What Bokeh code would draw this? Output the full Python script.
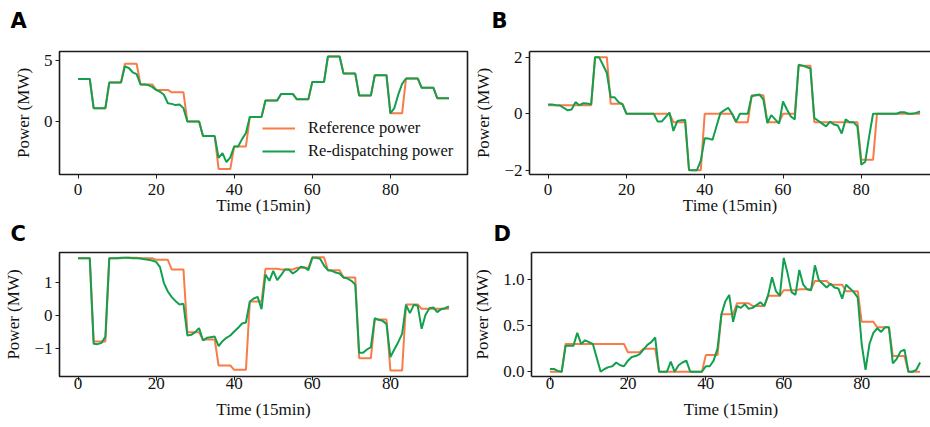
from bokeh.plotting import figure
from bokeh.layouts import column, row
from bokeh.models import Range1d, FixedTicker, LinearAxis, Legend, LegendItem, Label
from bokeh.embed import file_html
from bokeh.resources import INLINE

time = list(range(96))

a_ref = [3.5, 3.5, 3.5, 3.5, 1.1, 1.1, 1.1, 1.1, 3.2, 3.2, 3.2, 3.2,
         4.75, 4.75, 4.75, 4.75, 3.05, 3.05, 3.05, 3.05, 2.6, 2.6, 2.6, 2.6,
         2.4, 2.4, 2.4, 2.4, 0.0, 0.0, 0.0, 0.0, -1.2, -1.2, -1.2, -1.2,
         -3.9, -3.9, -3.9, -3.9, -2.05, -2.05, -2.05, -2.05, 0.38, 0.38, 0.38, 0.38,
         1.72, 1.72, 1.72, 1.72, 2.27, 2.27, 2.27, 2.27, 1.84, 1.84, 1.84, 1.84,
         3.26, 3.26, 3.26, 3.26, 5.35, 5.35, 5.35, 5.35, 3.94, 3.94, 3.94, 3.94,
         2.13, 2.13, 2.13, 2.13, 3.81, 3.81, 3.81, 3.81, 0.67, 0.67, 0.67, 0.67,
         3.54, 3.54, 3.54, 3.54, 2.78, 2.78, 2.78, 2.78, 1.92, 1.92, 1.92, 1.92]
a_redis = [3.5, 3.5, 3.5, 3.5, 1.1, 1.1, 1.1, 1.1, 3.2, 3.2, 3.2, 3.2,
           4.54, 4.4, 4.05, 3.9, 3.05, 3.05, 3.0, 2.85, 2.6, 2.45, 2.2, 1.5,
           1.45, 1.35, 1.4, 1.1, 0.0, 0.0, 0.0, 0.0, -1.2, -1.2, -1.2, -1.2,
           -3.0, -2.6, -3.35, -2.95, -2.05, -2.05, -1.45, -0.95, 0.38, 0.38, 0.38, 0.38,
           1.72, 1.72, 1.72, 1.72, 2.27, 2.27, 2.27, 2.27, 1.84, 1.84, 1.84, 1.84,
           3.26, 3.26, 3.26, 3.26, 5.35, 5.35, 5.35, 5.35, 3.94, 3.94, 3.94, 3.94,
           2.13, 2.13, 2.13, 2.13, 3.81, 3.81, 3.81, 3.81, 0.67, 1.1, 2.2, 3.1,
           3.54, 3.54, 3.54, 3.54, 2.78, 2.78, 2.78, 2.78, 1.92, 1.92, 1.92, 1.92]

b_ref = [0.3, 0.3, 0.3, 0.3, 0.3, 0.3, 0.3, 0.3, 0.3, 0.3, 0.3, 0.3,
         2.0, 2.0, 2.0, 2.0, 0.35, 0.35, 0.35, 0.35, 0.0, 0.0, 0.0, 0.0,
         0.0, 0.0, 0.0, 0.0, 0.0, 0.0, 0.0, 0.0, -0.3, -0.3, -0.3, -0.3,
         -2.0, -2.0, -2.0, -2.0, 0.0, 0.0, 0.0, 0.0, 0.0, 0.0, 0.0, 0.0,
         -0.3, -0.3, -0.3, -0.3, 0.65, 0.65, 0.65, 0.65, -0.3, -0.3, -0.3, -0.3,
         0.0, 0.0, 0.0, 0.0, 1.7, 1.7, 1.7, 1.7, -0.3, -0.3, -0.3, -0.3,
         -0.3, -0.3, -0.3, -0.3, -0.3, -0.3, -0.3, -0.3, -1.63, -1.63, -1.63, -1.63,
         0.0, 0.0, 0.0, 0.0, 0.0, 0.0, 0.0, 0.0, 0.0, 0.0, 0.0, 0.0]
b_redis = [0.33, 0.33, 0.3, 0.29, 0.21, 0.12, 0.15, 0.41, 0.3, 0.37, 0.36, 0.33,
           2.0, 2.0, 1.73, 1.44, 0.58, 0.58, 0.41, 0.33, 0.0, 0.0, 0.0, 0.0,
           0.0, 0.0, 0.0, 0.0, -0.28, -0.28, -0.12, 0.04, -0.61, -0.26, -0.23, -0.22,
           -1.99, -2.0, -2.0, -1.66, -0.87, -0.88, -0.92, -0.45, 0.02, 0.12, 0.21, 0.0,
           -0.29, 0.0, 0.0, 0.0, 0.62, 0.65, 0.68, 0.5, -0.33, -0.05, -0.2, -0.35,
           0.43, 0.15, -0.1, -0.2, 1.73, 1.7, 1.65, 1.6, -0.15, -0.25, -0.35, -0.45,
           -0.28, -0.38, -0.42, -0.7, -0.2, -0.3, -0.3, -0.45, -1.8, -1.7, -0.8, 0.0,
           0.0, 0.0, 0.0, 0.0, 0.0, 0.0, 0.05, 0.05, 0.0, 0.0, 0.03, 0.08]

c_ref = [1.72, 1.72, 1.72, 1.72, -0.78, -0.78, -0.78, -0.78, 1.72, 1.72, 1.72, 1.72,
         1.73, 1.73, 1.73, 1.73, 1.72, 1.72, 1.72, 1.72, 1.67, 1.67, 1.67, 1.67,
         1.38, 1.38, 1.38, 1.38, -0.5, -0.5, -0.5, -0.5, -0.72, -0.72, -0.72, -0.72,
         -1.5, -1.5, -1.5, -1.5, -1.63, -1.63, -1.63, -1.63, 0.42, 0.42, 0.42, 0.42,
         1.4, 1.4, 1.4, 1.4, 1.38, 1.38, 1.38, 1.38, 1.43, 1.43, 1.43, 1.43,
         1.75, 1.75, 1.75, 1.75, 1.36, 1.36, 1.36, 1.36, 1.14, 1.14, 1.14, 1.14,
         -1.28, -1.28, -1.28, -1.28, -0.12, -0.12, -0.12, -0.12, -1.65, -1.65, -1.65, -1.65,
         0.33, 0.33, 0.33, 0.33, 0.2, 0.2, 0.2, 0.2, 0.2, 0.2, 0.2, 0.2]
c_redis = [1.72, 1.72, 1.72, 1.72, -0.85, -0.86, -0.82, -0.64, 1.72, 1.72, 1.72, 1.73,
           1.73, 1.73, 1.72, 1.72, 1.71, 1.69, 1.67, 1.65, 1.61, 1.45, 0.97, 0.72,
           0.55, 0.43, 0.33, 0.35, -0.6, -0.58, -0.5, -0.38, -0.75, -0.67, -0.65, -0.63,
           -0.92, -0.77, -0.67, -0.6, -0.48, -0.37, -0.24, -0.21, 0.42, 0.51, 0.56, 0.19,
           1.23, 1.04, 1.34, 1.06, 1.21, 1.38, 1.38, 1.26, 1.34, 1.46, 1.44, 1.36,
           1.73, 1.73, 1.7, 1.5, 1.36, 1.34, 1.29, 1.26, 1.14, 1.11, 1.04, 0.93,
           -1.12, -1.12, -1.02, -0.95, -0.08, -0.13, -0.16, -0.25, -1.25, -1.02, -0.8, -0.55,
           0.32, 0.07, 0.32, 0.29, -0.4, 0.02, 0.22, 0.24, 0.1, 0.19, 0.22, 0.27]

d_ref = [0.0, 0.0, 0.0, 0.0, 0.3, 0.3, 0.3, 0.3, 0.3, 0.3, 0.3, 0.3,
         0.3, 0.3, 0.3, 0.3, 0.3, 0.3, 0.3, 0.3, 0.21, 0.21, 0.21, 0.21,
         0.25, 0.25, 0.25, 0.25, 0.0, 0.0, 0.0, 0.0, 0.0, 0.0, 0.0, 0.0,
         0.0, 0.0, 0.0, 0.0, 0.18, 0.18, 0.18, 0.18, 0.62, 0.62, 0.62, 0.62,
         0.74, 0.74, 0.74, 0.74, 0.71, 0.71, 0.71, 0.71, 0.82, 0.82, 0.82, 0.82,
         0.88, 0.88, 0.88, 0.88, 0.89, 0.89, 0.89, 0.89, 0.98, 0.98, 0.98, 0.98,
         0.94, 0.94, 0.94, 0.94, 0.87, 0.87, 0.87, 0.87, 0.54, 0.54, 0.54, 0.54,
         0.48, 0.48, 0.48, 0.48, 0.17, 0.17, 0.17, 0.17, 0.0, 0.0, 0.0, 0.0]
d_redis = [0.03, 0.03, 0.01, 0.0, 0.28, 0.28, 0.28, 0.42, 0.3, 0.34, 0.32, 0.3,
           0.15, 0.0, 0.03, 0.05, 0.06, 0.1, 0.07, 0.06, 0.12, 0.16, 0.17, 0.19,
           0.24, 0.29, 0.32, 0.37, 0.0, 0.0, 0.0, 0.11, 0.0, 0.07, 0.1, 0.12,
           0.0, 0.0, 0.0, 0.0, 0.06, 0.06, 0.12, 0.25, 0.62, 0.76, 0.83, 0.54,
           0.71, 0.69, 0.73, 0.68, 0.69, 0.72, 0.75, 0.71, 0.83, 1.02, 0.87, 0.82,
           1.23, 1.06, 0.86, 0.83, 1.1, 0.94, 0.89, 0.88, 1.15, 0.99, 0.95, 0.91,
           0.95, 0.91, 0.9, 0.79, 0.94, 0.9, 0.86, 0.8, 0.3, 0.02, 0.3, 0.42,
           0.47, 0.43, 0.48, 0.48, 0.09, 0.14, 0.22, 0.24, 0.0, 0.0, 0.02, 0.1]

x_ticks = [0, 20, 40, 60, 80]
a_yticks = [0, 5]
a_ylabels = ["0", "5"]
b_yticks = [-2, 0, 2]
b_ylabels = ["\u22122", "0", "2"]
c_yticks = [-1, 0, 1]
c_ylabels = ["\u22121", "0", "1"]
d_yticks = [0.0, 0.5, 1.0]
d_ylabels = ["0.0", "0.5", "1.0"]

ref_name = "Reference power"
redis_name = "Re-dispatching power"
x_title = "Time (15min)"
y_title = "Power (MW)"

ORANGE = "#F97B47"
GREEN = "#12A04F"
INK = "#1c1c1c"
SERIF = "Liberation Serif"


def panel(letter, ref, redis, xr, yr, yticks, ylabels, width, height,
          mb, letter_xy, closed, xstand):
    left, right, top, bottom = mb
    p = figure(width=width, height=height, x_range=Range1d(*xr), y_range=Range1d(*yr),
               output_backend="svg", toolbar_location=None,
               min_border_left=left, min_border_right=right,
               min_border_top=top, min_border_bottom=bottom)
    p.grid.visible = False
    p.background_fill_color = "white"
    p.border_fill_color = "white"
    r1 = p.line(time, ref, line_color=ORANGE, line_width=2)
    r2 = p.line(time, redis, line_color=GREEN, line_width=2)

    p.xaxis.ticker = FixedTicker(ticks=x_ticks)
    p.yaxis.ticker = FixedTicker(ticks=yticks)
    p.yaxis.major_label_overrides = {t: l for t, l in zip(yticks, ylabels)}
    p.xaxis.axis_label = x_title
    p.yaxis.axis_label = y_title
    for ax in (p.xaxis[0], p.yaxis[0]):
        ax.minor_tick_line_color = None
        ax.major_tick_in = 0
        ax.major_tick_out = 4
        ax.major_tick_line_color = INK
        ax.major_tick_line_width = 1
        ax.major_label_text_font = SERIF
        ax.major_label_text_font_size = "17px"
        ax.major_label_text_color = "#111111"
        ax.axis_label_text_font = SERIF
        ax.axis_label_text_font_size = "17px"
        ax.axis_label_text_font_style = "normal"
        ax.axis_label_text_color = "#111111"
    p.xaxis.major_label_standoff = xstand[0]
    p.xaxis.axis_label_standoff = xstand[1]
    p.yaxis.major_label_standoff = 3
    p.yaxis.axis_label_standoff = 8

    if closed:
        p.outline_line_color = INK
        p.outline_line_width = 1.6
        p.xaxis.axis_line_color = None
        p.yaxis.axis_line_color = None
    else:
        p.outline_line_color = None
        p.xaxis.axis_line_color = INK
        p.xaxis.axis_line_width = 1.6
        p.yaxis.axis_line_color = INK
        p.yaxis.axis_line_width = 1.6
        top_axis = LinearAxis(ticker=FixedTicker(ticks=[]), axis_line_color=INK,
                              axis_line_width=1.6, major_tick_line_color=None,
                              minor_tick_line_color=None, major_label_text_color=None,
                              major_label_text_font_size="1px")
        p.add_layout(top_axis, "above")

    p.add_layout(Label(x=letter_xy[0], y=letter_xy[1], x_units="screen", y_units="screen",
                       text=letter, text_font="DejaVu Sans", text_font_style="bold",
                       text_font_size="21px", text_color="black",
                       text_align="left", text_baseline="alphabetic"), "above")
    return p, r1, r2


pa, ra1, ra2 = panel("A", a_ref, a_redis, (-4.75, 99.75), (-4.36, 5.76), a_yticks, a_ylabels,
                     470, 220, (59, 3, 50, 45), (-49, 31), True, (5, -2))
pb, _, _ = panel("B", b_ref, b_redis, (-4.75, 97.67), (-2.15, 2.2), b_yticks, b_ylabels,
                 460, 220, (59, 0, 51, 46), (-38, 31), False, (5, -2))
pc, _, _ = panel("C", c_ref, c_redis, (-4.75, 99.75), (-1.83, 1.89), c_yticks, c_ylabels,
                 470, 207, (59, 3, 32, 50), (-49, 19), True, (-3, 8))
pd_, _, _ = panel("D", d_ref, d_redis, (-4.75, 97.67), (-0.051, 1.288), d_yticks, d_ylabels,
                  460, 207, (59, 0, 32, 51), (-38, 19), False, (-3, 8))

legend = Legend(items=[LegendItem(label=ref_name, renderers=[ra1]),
                       LegendItem(label=redis_name, renderers=[ra2])],
                location=(203, 13), orientation="vertical",
                border_line_color=None, background_fill_alpha=0,
                padding=0, margin=0, spacing=3,
                glyph_width=33, glyph_height=20, label_height=20, label_standoff=13,
                label_text_font=SERIF, label_text_font_size="16.5px",
                label_text_color="#111111")
pa.add_layout(legend, "center")

layout = column(row(pa, pb), row(pc, pd_))
open("out.html", "w").write(file_html(layout, INLINE))
